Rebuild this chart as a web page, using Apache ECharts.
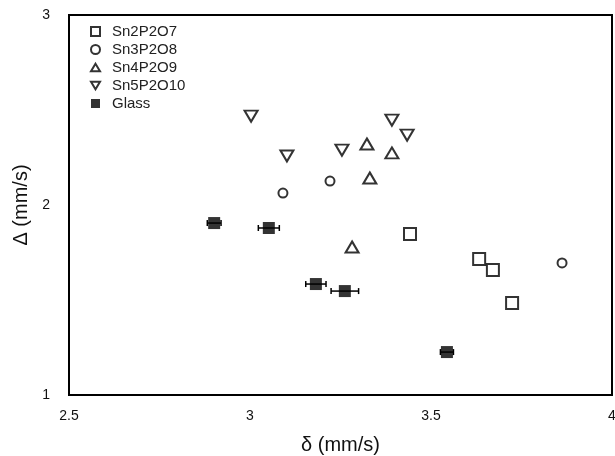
<!DOCTYPE html>
<html>
<head>
<meta charset="utf-8">
<script src="https://cdn.jsdelivr.net/npm/echarts@6/dist/echarts.min.js"></script>
<style>html,body{margin:0;padding:0;background:#fff}#c{width:615px;height:456px}</style>
</head>
<body>
<div id="c"></div>
<script>
var xTicks = [2.5, 3, 3.5, 4];
var yTicks = [1, 2, 3];
var sn2X = [3.442, 3.633, 3.671, 3.724];
var sn2Y = [1.847, 1.716, 1.658, 1.484];
var sn3X = [3.091, 3.221, 3.862];
var sn3Y = [2.063, 2.126, 1.695];
var sn4X = [3.323, 3.392, 3.331, 3.282];
var sn4Y = [2.321, 2.274, 2.142, 1.779];
var sn5X = [3.003, 3.102, 3.254, 3.392, 3.434];
var sn5Y = [2.468, 2.258, 2.289, 2.447, 2.368];
var glassX = [2.901, 3.052, 3.182, 3.262, 3.544];
var glassY = [1.905, 1.879, 1.584, 1.547, 1.226];
var glassErr = [0.019, 0.029, 0.028, 0.038, 0.018];

function pairs(xs, ys){ return xs.map(function(x,i){ return [x, ys[i]]; }); }
var errData = glassX.map(function(x,i){ return [x - glassErr[i], x + glassErr[i], glassY[i]]; });

var chart = echarts.init(document.getElementById('c'), null, {renderer:'canvas'});
var font = 'Liberation Sans, Arial, Helvetica, sans-serif';
var openStyle = {color:'#fff', borderColor:'#000', borderWidth:2};
var upTri = 'path://M6,0L12,10L0,10Z';
var downTri = 'path://M0,0L12,0L6,10Z';
chart.setOption({
  animation:false,
  backgroundColor:'#fff',
  grid:{left:69, right:3, top:15, bottom:61, containLabel:false, outerBoundsMode:'none'},
  legend:{
    orient:'vertical', left:85, top:19, itemGap:3, itemWidth:9, itemHeight:9,
    itemStyle:{borderWidth:2},
    textStyle:{fontFamily:font, fontSize:15, color:'#222', padding:[0,0,0,7]},
    data:['Sn2P2O7','Sn3P2O8','Sn4P2O9','Sn5P2O10','Glass']
  },
  xAxis:{
    type:'value', min:2.5, max:4, interval:0.5,
    name:'δ (mm/s)', nameLocation:'middle', nameGap:40,
    nameTextStyle:{fontFamily:font, fontSize:20, color:'#111'},
    axisLine:{show:false},
    axisTick:{show:false}, splitLine:{show:false},
    axisLabel:{fontFamily:font, fontSize:14, color:'#111', margin:14,
      formatter:function(v){ return xTicks.indexOf(v) >= 0 ? String(v) : ''; }}
  },
  yAxis:{
    type:'value', min:1, max:3, interval:1,
    name:'Δ (mm/s)', nameLocation:'middle', nameGap:36,
    nameTextStyle:{fontFamily:font, fontSize:20, color:'#111'},
    axisLine:{show:false},
    axisTick:{show:false}, splitLine:{show:false},
    axisLabel:{fontFamily:font, fontSize:14, color:'#111', margin:19, padding:[5,0,0,0],
      formatter:function(v){ return yTicks.indexOf(v) >= 0 ? String(v) : ''; }}
  },
  graphic:[{type:'rect', shape:{x:69, y:15, width:543, height:380}, style:{fill:'none', stroke:'#000', lineWidth:2}, silent:true, z:0}],
  series:[
    {name:'Sn2P2O7', type:'scatter', symbol:'rect', symbolSize:12, itemStyle:openStyle, data:pairs(sn2X,sn2Y)},
    {name:'Sn3P2O8', type:'scatter', symbol:'circle', symbolSize:9, itemStyle:openStyle, data:pairs(sn3X,sn3Y)},
    {name:'Sn4P2O9', type:'scatter', symbol:upTri, symbolSize:[13,11], itemStyle:openStyle, data:pairs(sn4X,sn4Y)},
    {name:'Sn5P2O10', type:'scatter', symbol:downTri, symbolSize:[13,11], itemStyle:openStyle, data:pairs(sn5X,sn5Y)},
    {name:'GlassErr', type:'custom', data:errData, z:3,
      renderItem:function(params, api){
        var a = api.coord([api.value(0), api.value(2)]);
        var b = api.coord([api.value(1), api.value(2)]);
        var s = {stroke:'#000', lineWidth:1.5};
        return {type:'group', children:[
          {type:'line', shape:{x1:a[0], y1:a[1], x2:b[0], y2:b[1]}, style:s},
          {type:'line', shape:{x1:a[0], y1:a[1]-3, x2:a[0], y2:a[1]+3}, style:s},
          {type:'line', shape:{x1:b[0], y1:b[1]-3, x2:b[0], y2:b[1]+3}, style:s}
        ]};
      }},
    {name:'Glass', type:'scatter', symbol:'rect', symbolSize:12, z:4, itemStyle:{color:'#000'}, data:pairs(glassX,glassY)}
  ]
});
</script>
</body>
</html>
